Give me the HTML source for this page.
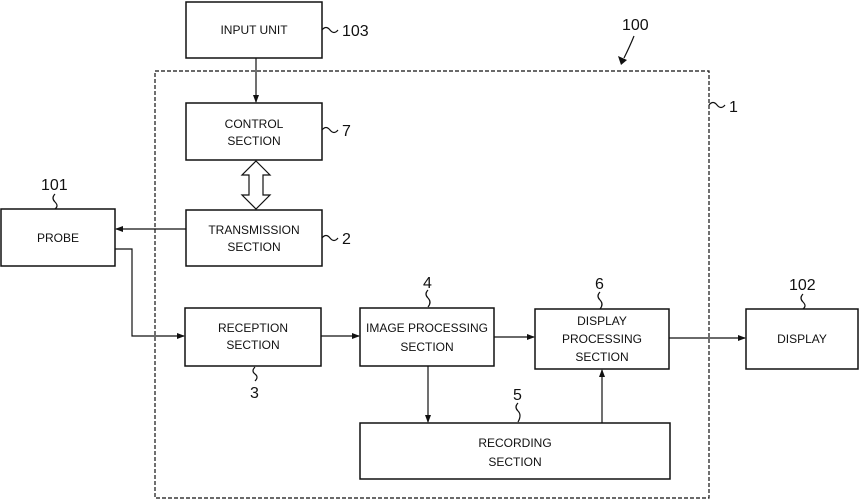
<!DOCTYPE html>
<html><head><meta charset="utf-8"><style>
body{margin:0;background:#fff}
svg{display:block}
text{font-family:"Liberation Sans",sans-serif;fill:#111}
.b{font-size:12px;text-anchor:middle}
.n{font-size:16px}
</style></head><body>
<svg width="859" height="503" viewBox="0 0 859 503" xmlns="http://www.w3.org/2000/svg">
<defs><marker id="a" markerWidth="8" markerHeight="8" refX="7" refY="4" orient="auto" markerUnits="userSpaceOnUse"><path d="M0,1 L8,4 L0,7 z" fill="#111"/></marker></defs>
<g fill="none" stroke="#111" stroke-width="1.5">
<rect x="155" y="71" width="554" height="427" stroke-dasharray="4,2" stroke-width="1.2"/>
<rect x="186" y="2" width="136" height="56"/>
<rect x="186" y="103" width="136" height="57"/>
<rect x="186" y="210" width="136" height="56"/>
<rect x="1" y="209" width="114" height="57"/>
<rect x="185" y="308" width="136" height="58"/>
<rect x="360" y="308" width="134" height="58"/>
<rect x="535" y="309" width="134" height="60"/>
<rect x="746" y="309" width="112" height="60"/>
<rect x="360" y="423" width="310" height="56"/>
<g stroke-width="1.2">
<line x1="256" y1="58" x2="256" y2="102" marker-end="url(#a)"/>
<line x1="186" y1="229" x2="116" y2="229" marker-end="url(#a)"/>
<polyline points="115,249 132,249 132,336 184,336" marker-end="url(#a)"/>
<line x1="321" y1="336" x2="359" y2="336" marker-end="url(#a)"/>
<line x1="494" y1="337" x2="534" y2="337" marker-end="url(#a)"/>
<line x1="669" y1="338" x2="745" y2="338" marker-end="url(#a)"/>
<line x1="428" y1="366" x2="428" y2="422" marker-end="url(#a)"/>
<line x1="602" y1="423" x2="602" y2="370" marker-end="url(#a)"/>
<path d="M256,161 L270,175 L263,175 L263,195 L270,195 L256,209 L242,195 L249,195 L249,175 L242,175 Z"/>
<path d="M322,30 q4,-5 8,0 t8,0"/><path d="M322,130 q4,-5 8,0 t8,0"/><path d="M322,238 q4,-5 8,0 t8,0"/>
<path d="M55,194 q-4,4 0,8 t0,7"/><path d="M428,290 q-4,4 0,8 t0,9"/><path d="M600,292 q-4,4 0,8 t0,9"/>
<path d="M803,294 q-4,4 0,8 t0,7"/><path d="M255,367 q-4,4 0,7 t0,7"/><path d="M518,403 q-4,4 0,8 t0,11"/>
<path d="M709,105 q4,-5 8,0 t8,0"/>
<path d="M634,36 q-4,10 -10,22"/>
</g>
</g>
<path d="M618,56 L627,60 L621,65 z" fill="#111"/>
<text class="b" x="254" y="34">INPUT UNIT</text>
<text class="b" x="254" y="128">CONTROL</text><text class="b" x="254" y="145">SECTION</text>
<text class="b" x="254" y="234">TRANSMISSION</text><text class="b" x="254" y="251">SECTION</text>
<text class="b" x="58" y="242">PROBE</text>
<text class="b" x="253" y="332">RECEPTION</text><text class="b" x="253" y="349">SECTION</text>
<text class="b" x="427" y="332">IMAGE PROCESSING</text><text class="b" x="427" y="351">SECTION</text>
<text class="b" x="602" y="325">DISPLAY</text><text class="b" x="602" y="343">PROCESSING</text><text class="b" x="602" y="361">SECTION</text>
<text class="b" x="802" y="343">DISPLAY</text>
<text class="b" x="515" y="447">RECORDING</text><text class="b" x="515" y="466">SECTION</text>
<text class="n" x="342" y="36">103</text>
<text class="n" x="342" y="136">7</text>
<text class="n" x="342" y="244">2</text>
<text class="n" x="41" y="190">101</text>
<text class="n" x="622" y="30">100</text>
<text class="n" x="729" y="112">1</text>
<text class="n" x="423" y="288">4</text>
<text class="n" x="595" y="289">6</text>
<text class="n" x="789" y="290">102</text>
<text class="n" x="250" y="398">3</text>
<text class="n" x="513" y="400">5</text>
</svg>
</body></html>
